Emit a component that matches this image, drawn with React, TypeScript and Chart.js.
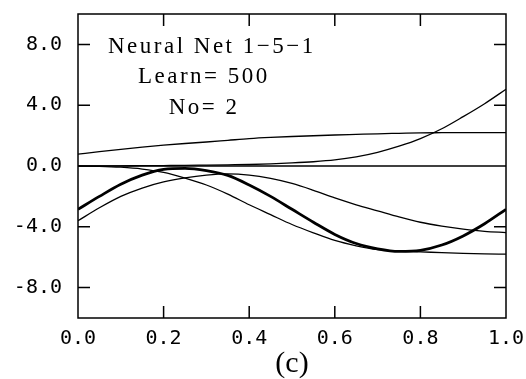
import React, { useEffect, useRef } from "react";
import { Chart, registerables } from "chart.js";

Chart.register(...registerables);

// ---- data ----
const xValues = [0, 0.05, 0.1, 0.15, 0.2, 0.25, 0.3, 0.35, 0.4, 0.45, 0.5, 0.55, 0.6, 0.65, 0.7, 0.75, 0.8, 0.85, 0.9, 0.95, 1.0];

// thick curve (network output)
const thickCurve = [-2.85, -2.0, -1.2, -0.6, -0.22, -0.15, -0.3, -0.62, -1.25, -2.0, -2.85, -3.7, -4.5, -5.1, -5.45, -5.62, -5.55, -5.2, -4.6, -3.8, -2.85];
// thin curve rising from -3.6 to a hump, then falling to about -4.4
const thinHumpCurve = [-3.6, -2.75, -2.0, -1.45, -1.05, -0.78, -0.6, -0.52, -0.6, -0.82, -1.15, -1.6, -2.1, -2.55, -2.95, -3.35, -3.7, -3.95, -4.15, -4.3, -4.38];
// thin curve falling from 0 to about -5.8
const thinFallCurve = [0, -0.02, -0.08, -0.2, -0.42, -0.8, -1.25, -1.85, -2.55, -3.2, -3.85, -4.4, -4.9, -5.25, -5.5, -5.6, -5.65, -5.7, -5.75, -5.78, -5.8];
// thin curve rising to about 5
const thinRiseCurve = [0, 0, 0.01, 0.02, 0.03, 0.04, 0.06, 0.08, 0.1, 0.14, 0.2, 0.28, 0.4, 0.6, 0.9, 1.3, 1.8, 2.45, 3.25, 4.1, 5.05];
// flat line at zero
const flatCurve = [0, 0, 0, 0, 0, 0, 0, 0, 0, 0, 0, 0, 0, 0, 0, 0, 0, 0, 0, 0, 0];
// upper slowly rising line
const upperCurve = [0.78, 0.95, 1.1, 1.24, 1.37, 1.48, 1.58, 1.69, 1.8, 1.88, 1.94, 1.99, 2.04, 2.08, 2.12, 2.15, 2.18, 2.19, 2.2, 2.2, 2.2];

const xTickValues = [0, 0.2, 0.4, 0.6, 0.8, 1.0];
const yTickValues = [-8, -4, 0, 4, 8];
const innerXTicks = [0.2, 0.4, 0.6, 0.8];
const innerYTicks = [-8, -4, 4, 8];

const annotationLines = ["Neural Net 1\u22125\u22121", "Learn= 500", "No= 2"];
const annotationX = [0.07, 0.14, 0.212];
const annotationY = [7.43, 5.46, 3.42];
const caption = "(c)";

const toPoints = (ys: number[]) => xValues.map((x, i) => ({ x, y: ys[i] }));

const framePlugin = {
  id: "frameAndText",
  afterDatasetsDraw(chart: any) {
    const { ctx, chartArea: a, scales } = chart;
    const xs = scales.x;
    const ys = scales.y;
    ctx.save();
    ctx.strokeStyle = "#000";
    ctx.lineWidth = 1.5;
    ctx.strokeRect(a.left, a.top, a.right - a.left, a.bottom - a.top);
    const len = 12;
    ctx.beginPath();
    for (const v of innerXTicks) {
      const px = xs.getPixelForValue(v);
      ctx.moveTo(px, a.bottom);
      ctx.lineTo(px, a.bottom - len);
      ctx.moveTo(px, a.top);
      ctx.lineTo(px, a.top + len);
    }
    for (const v of innerYTicks) {
      const py = ys.getPixelForValue(v);
      ctx.moveTo(a.left, py);
      ctx.lineTo(a.left + len, py);
      ctx.moveTo(a.right, py);
      ctx.lineTo(a.right - len, py);
    }
    ctx.stroke();

    ctx.fillStyle = "#000";
    ctx.font = '23px "Liberation Serif"';
    ctx.textAlign = "left";
    ctx.textBaseline = "alphabetic";
    try { (ctx as any).letterSpacing = "2.5px"; } catch (e) {}
    annotationLines.forEach((t, i) => {
      ctx.fillText(t, xs.getPixelForValue(annotationX[i]), ys.getPixelForValue(annotationY[i]));
    });
    try { (ctx as any).letterSpacing = "0px"; } catch (e) {}
    ctx.restore();
  },
};

export default function App() {
  const ref = useRef<HTMLCanvasElement | null>(null);
  useEffect(() => {
    if (!ref.current) return;
    const thin = { borderColor: "#000", borderWidth: 1.3, pointRadius: 0, fill: false, cubicInterpolationMode: "monotone" as const };
    const chart = new Chart(ref.current, {
      type: "line",
      data: {
        datasets: [
          { ...thin, data: toPoints(upperCurve) },
          { ...thin, data: toPoints(flatCurve) },
          { ...thin, data: toPoints(thinRiseCurve) },
          { ...thin, data: toPoints(thinFallCurve) },
          { ...thin, data: toPoints(thinHumpCurve) },
          { ...thin, borderWidth: 2.8, data: toPoints(thickCurve) },
        ],
      },
      options: {
        animation: false,
        responsive: false,
        devicePixelRatio: 1,
        layout: { padding: { left: 0, top: 14, right: 20, bottom: 0 } },
        plugins: { legend: { display: false }, tooltip: { enabled: false }, title: { display: false } },
        scales: {
          x: {
            type: "linear",
            min: 0,
            max: 1,
            grid: { display: false, drawTicks: false },
            border: { display: false },
            ticks: {
              color: "#000",
              padding: 9,
              maxRotation: 0,
              autoSkip: false,
              font: { family: '"DejaVu Sans Mono"', size: 20 },
              callback: (v: any) => Number(v).toFixed(1),
            },
            afterBuildTicks: (s: any) => { s.ticks = xTickValues.map((v) => ({ value: v })); },
            afterFit: (s: any) => { s.height = 61; s.paddingLeft = 0; s.paddingRight = 0; s.paddingTop = 0; s.paddingBottom = 0; },
            title: {
              display: true,
              text: caption,
              color: "#000",
              font: { family: '"Liberation Serif"', size: 30, lineHeight: 1.0 },
              padding: { top: 0, bottom: 0 },
            },
          },
          y: {
            type: "linear",
            min: -10,
            max: 10,
            grid: { display: false, drawTicks: false },
            border: { display: false },
            ticks: {
              color: "#000",
              padding: 16,
              autoSkip: false,
              font: { family: '"DejaVu Sans Mono"', size: 20 },
              callback: (v: any) => Number(v).toFixed(1),
            },
            afterBuildTicks: (s: any) => { s.ticks = yTickValues.map((v) => ({ value: v })); },
            afterFit: (s: any) => { s.width = 78; s.paddingLeft = 0; s.paddingRight = 0; s.paddingTop = 0; s.paddingBottom = 0; },
          },
        },
      },
      plugins: [framePlugin],
    });
    return () => chart.destroy();
  }, []);
  return (
    <div style={{ position: "absolute", left: 0, top: 0, width: 526, height: 379, background: "#fff" }}>
      <canvas ref={ref} width={526} height={379} />
    </div>
  );
}
